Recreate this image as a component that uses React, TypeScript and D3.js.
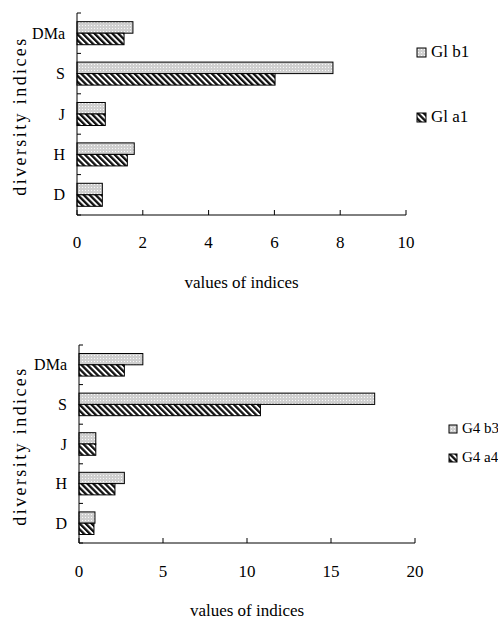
import React from 'react';
import * as d3 from 'd3';

// categories listed bottom to top as in the picture
const categories = ["D", "H", "J", "S", "DMa"];

// upper chart
const g1Labels = ["Gl b1", "Gl a1"];
const g1b1 = [0.77, 1.74, 0.86, 7.78, 1.7];
const g1a1 = [0.77, 1.53, 0.86, 6.02, 1.43];
const g1Ticks = [0, 2, 4, 6, 8, 10];

// lower chart
const g4Labels = ["G4 b3", "G4 a4"];
const g4b3 = [0.95, 2.7, 1.0, 17.6, 3.8];
const g4a4 = [0.89, 2.14, 1.0, 10.8, 2.7];
const g4Ticks = [0, 5, 10, 15, 20];

function BarChart(props: any) {
  const { left, right, top, bottom, ticks, b, a, labels, legend, tickY, titleY, legendFont } = props;

  const x = d3.scaleLinear().domain([0, ticks[ticks.length - 1]]).range([left, right]);
  const y = d3.scaleBand().domain([...categories].reverse()).range([top, bottom]).padding(0);
  const bw = y.bandwidth();
  const pairH = bw * 0.57;
  const off = (bw - pairH) / 2;
  const barH = pairH / 2;
  const yBounds = y.domain().map((c) => y(c) as number).concat([bottom]);

  return (
    <g>
      {/* bars */}
      {categories.map((c, i) => {
        const y0 = (y(c) as number) + off;
        return (
          <g key={c}>
            <rect x={x(0)} y={y0} width={x(b[i]) - x(0)} height={barH}
              fill="url(#dots)" stroke="#000" strokeWidth={1} />
            <rect x={x(0)} y={y0 + barH} width={x(a[i]) - x(0)} height={barH}
              fill="url(#hatch)" stroke="#000" strokeWidth={1} />
          </g>
        );
      })}

      {/* y axis */}
      <line x1={left} x2={left} y1={top} y2={bottom} stroke="#000" strokeWidth={1} />
      {yBounds.map((v, i) => (
        <line key={"yt" + i} x1={left} x2={left + 4} y1={v} y2={v} stroke="#000" />
      ))}
      {categories.map((c) => (
        <text key={"yl" + c} x={left - 12} y={(y(c) as number) + bw / 2 + 5.5}
          textAnchor="end" fontSize={16}>{c}</text>
      ))}

      {/* x axis */}
      <line x1={left} x2={right} y1={bottom} y2={bottom} stroke="#000" strokeWidth={1} />
      {ticks.map((t: number) => (
        <g key={"xt" + t}>
          <line x1={x(t)} x2={x(t)} y1={bottom} y2={bottom - 5} stroke="#000" />
          <text x={x(t)} y={tickY} textAnchor="middle" fontSize={17}>{t}</text>
        </g>
      ))}
      <text x={(left + right) / 2} y={titleY} textAnchor="middle" fontSize={17}>
        values of indices
      </text>

      {/* y title */}
      <text transform={`translate(26,${(top + bottom) / 2 + 2}) rotate(-90)`} textAnchor="middle"
        fontSize={18} letterSpacing={2.4}>diversity indices</text>

      {/* legend */}
      {labels.map((l: string, i: number) => (
        <g key={l}>
          <rect x={legend.x} y={legend.ys[i] - legend.size} width={legend.size} height={legend.size}
            fill={i === 0 ? "url(#dots)" : "url(#hatch)"} stroke="#000" strokeWidth={1} />
          <text x={legend.x + legend.size + 5} y={legend.ys[i]} fontSize={legendFont}>{l}</text>
        </g>
      ))}
    </g>
  );
}

export default function App() {
  return (
    <svg width={498} height={621}
      style={{ position: "absolute", left: 0, top: 0, background: "#fff", fontFamily: "Liberation Serif, serif" }}>
      <defs>
        <pattern id="dots" width={3} height={3} patternUnits="userSpaceOnUse">
          <rect width={3} height={3} fill="#cfcfcf" />
          <rect x={1} y={1} width={1} height={1} fill="#fafafa" />
        </pattern>
        <pattern id="hatch" width={4.2} height={4.2} patternUnits="userSpaceOnUse" patternTransform="rotate(-45)">
          <rect width={4.2} height={4.2} fill="#fff" />
          <rect width={2.3} height={4.2} fill="#111" />
        </pattern>
      </defs>
      <BarChart left={77} right={406} top={13} bottom={215} ticks={g1Ticks} b={g1b1} a={g1a1}
        labels={g1Labels} tickY={248} titleY={288} legendFont={17}
        legend={{ x: 417, ys: [57, 122], size: 9 }} />
      <BarChart left={79} right={415} top={345} bottom={543} ticks={g4Ticks} b={g4b3} a={g4a4}
        labels={g4Labels} tickY={577} titleY={616} legendFont={15}
        legend={{ x: 449, ys: [433, 462], size: 8 }} />
    </svg>
  );
}
